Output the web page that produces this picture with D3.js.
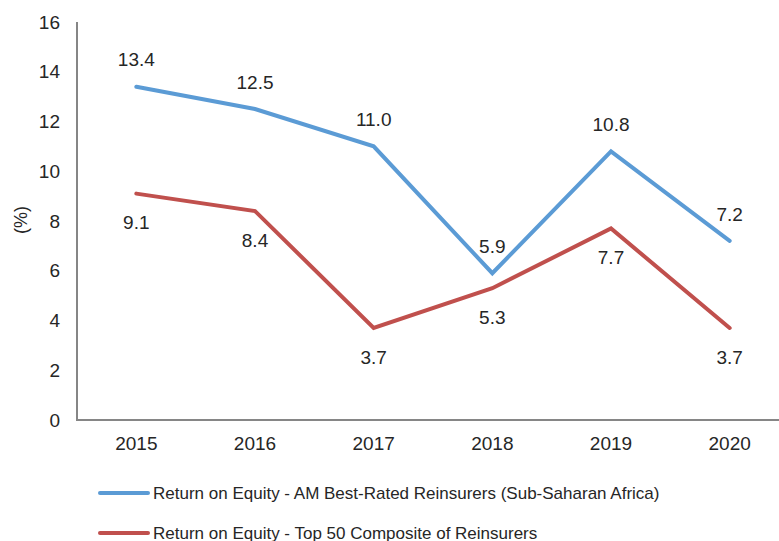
<!DOCTYPE html>
<html>
<head>
<meta charset="utf-8">
<script src="https://cdn.jsdelivr.net/npm/d3@7"></script>
<style>
  body { margin: 0; background: #fff; }
  svg { display: block; font-family: "Liberation Sans", Arial, sans-serif; }
</style>
</head>
<body>
<script>
// data
const years = ["2015", "2016", "2017", "2018", "2019", "2020"];
const amBest = [13.4, 12.5, 11.0, 5.9, 10.8, 7.2];
const top50 = [9.1, 8.4, 3.7, 5.3, 7.7, 3.7];
const yTicks = [0, 2, 4, 6, 8, 10, 12, 14, 16];
const seriesNames = [
  "Return on Equity - AM Best-Rated Reinsurers (Sub-Saharan Africa)",
  "Return on Equity - Top 50 Composite of Reinsurers"
];

const w = 779, h = 541;
const svg = d3.select("body").append("svg").attr("width", w).attr("height", h);

const x = d3.scaleBand().domain(years).range([77, 789]);
const y = d3.scaleLinear().domain([0, 16]).range([420, 22]);

// axes: just the lines, no tick marks
svg.append("line")
  .attr("x1", 77).attr("x2", 77).attr("y1", y(16)).attr("y2", y(0))
  .attr("stroke", "#868686").attr("stroke-width", 2);
svg.append("line")
  .attr("x1", 76).attr("x2", 789).attr("y1", y(0)).attr("y2", y(0))
  .attr("stroke", "#868686").attr("stroke-width", 2);

svg.selectAll(".ytick").data(yTicks).enter().append("text")
  .attr("x", 60).attr("y", d => y(d))
  .attr("dy", "0.35em").attr("text-anchor", "end")
  .attr("font-size", 19).attr("fill", "#262626")
  .text(d => d);

svg.selectAll(".xtick").data(years).enter().append("text")
  .attr("x", d => x(d) + x.bandwidth() / 2).attr("y", 443)
  .attr("dy", "0.35em").attr("text-anchor", "middle")
  .attr("font-size", 19).attr("fill", "#262626")
  .text(d => d);

svg.append("text")
  .attr("transform", "translate(21," + 220 + ") rotate(-90)")
  .attr("text-anchor", "middle").attr("dy", "0.35em")
  .attr("font-size", 18).attr("fill", "#262626")
  .text("(%)");

const line = d3.line()
  .x((d, i) => x(years[i]) + x.bandwidth() / 2)
  .y(d => y(d));

const series = [
  { values: amBest, color: "#5B9BD5", off: -27 },
  { values: top50, color: "#C0504D", off: 29 }
];

series.forEach(s => {
  svg.append("path").datum(s.values)
    .attr("d", line)
    .attr("fill", "none")
    .attr("stroke", s.color)
    .attr("stroke-width", 4)
    .attr("stroke-linecap", "round")
    .attr("stroke-linejoin", "miter");
});

series.forEach(s => {
  svg.selectAll(null).data(s.values).enter().append("text")
    .attr("x", (d, i) => x(years[i]) + x.bandwidth() / 2)
    .attr("y", d => y(d) + s.off)
    .attr("dy", "0.35em").attr("text-anchor", "middle")
    .attr("font-size", 19).attr("fill", "#262626")
    .text(d => d.toFixed(1));
});

// legend
const legend = svg.selectAll(".legend").data(series).enter().append("g")
  .attr("transform", (d, i) => "translate(100," + (493 + i * 40) + ")");
legend.append("line")
  .attr("x1", 0).attr("x2", 48)
  .attr("stroke", d => d.color).attr("stroke-width", 4)
  .attr("stroke-linecap", "round");
legend.append("text")
  .attr("x", 53).attr("dy", "0.35em")
  .attr("font-size", 17).attr("fill", "#262626")
  .text((d, i) => seriesNames[i]);
</script>
</body>
</html>
